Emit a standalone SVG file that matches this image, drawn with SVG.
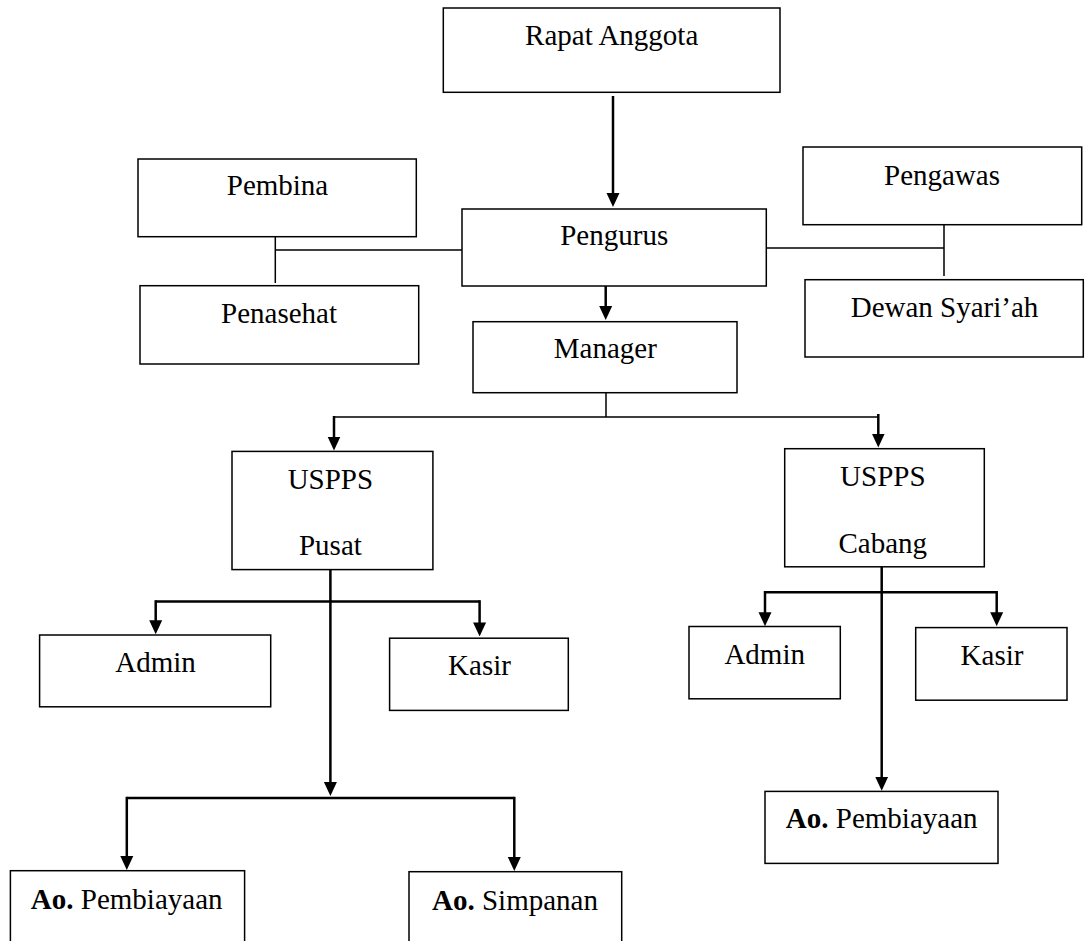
<svg xmlns="http://www.w3.org/2000/svg" width="1085" height="941" viewBox="0 0 1085 941">
<style>
.box{fill:#fff;stroke:#000;stroke-width:1.5}
.t{font-family:"Liberation Serif","Times New Roman",serif;font-size:29px;fill:#000;text-anchor:middle}
.b{font-weight:bold}
.ln{fill:none;stroke:#000;stroke-width:1.5}
.ar{fill:none;stroke:#000;stroke-width:2.5;marker-end:url(#ah)}
.th{fill:none;stroke:#000;stroke-width:2.5}
</style>
<defs>
<marker id="ah" markerUnits="userSpaceOnUse" markerWidth="14" markerHeight="14" refX="6" refY="7" orient="auto" viewBox="0 0 14 14">
<path d="M0,0.5 L14,7 L0,13.5 z" fill="#000"/>
</marker>
</defs>
<rect width="1085" height="941" fill="#fff"/>
<g id="connectors">
<path class="ar" d="M613,96 V199"/>
<path class="ln" d="M275.3,237 V283 M275.3,250 H462"/>
<path class="ln" d="M766,248 H944 M944,225 V276"/>
<path class="ar" d="M605.7,286 V312"/>
<path class="ln" d="M606,393 V417 M334,417 H878.3"/>
<path class="ar" d="M334,416 V442.5"/>
<path class="ar" d="M878.3,414 V439.5"/>
<path class="th" d="M330.4,570 V601.4 M155.7,601.4 H479.6"/>
<path class="ar" d="M155.7,600.2 V626.3"/>
<path class="ar" d="M479.6,600.2 V628.4"/>
<path class="ar" d="M330.4,600 V788"/>
<path class="th" d="M126.8,798 H514.3"/>
<path class="ar" d="M126.8,796.8 V862"/>
<path class="ar" d="M514.3,796.8 V863"/>
<path class="th" d="M881.7,566 V592.2 M765,592.2 H996.7"/>
<path class="ar" d="M765,591 V618.2"/>
<path class="ar" d="M996.7,591 V618.2"/>
<path class="ar" d="M881.7,591 V782.7"/>
</g>
<g id="rapat-anggota"><rect class="box" x="443.3" y="8" width="336.7" height="84.3"/><text class="t" x="611.7" y="45">Rapat Anggota</text></g>
<g id="pembina"><rect class="box" x="138" y="159" width="278.3" height="77.7"/><text class="t" x="277.5" y="195">Pembina</text></g>
<g id="pengurus"><rect class="box" x="462" y="209" width="304.3" height="77"/><text class="t" x="614.2" y="245">Pengurus</text></g>
<g id="pengawas"><rect class="box" x="803" y="147" width="278.7" height="77.7"/><text class="t" x="942" y="185">Pengawas</text></g>
<g id="penasehat"><rect class="box" x="140" y="285.7" width="278.7" height="78.3"/><text class="t" x="279" y="323.3">Penasehat</text></g>
<g id="dewan-syariah"><rect class="box" x="805" y="279.7" width="278.3" height="77.3"/><text class="t" x="944.5" y="316.7">Dewan Syari’ah</text></g>
<g id="manager"><rect class="box" x="473" y="321.7" width="264" height="71"/><text class="t" x="605.3" y="358.3">Manager</text></g>
<g id="uspps-pusat"><rect class="box" x="232" y="451.4" width="200.9" height="118.2"/><text class="t" x="330.4" y="489">USPPS</text><text class="t" x="330.4" y="555">Pusat</text></g>
<g id="uspps-cabang"><rect class="box" x="784.7" y="448.7" width="199.6" height="118.1"/><text class="t" x="882.8" y="486.3">USPPS</text><text class="t" x="882.8" y="552.5">Cabang</text></g>
<g id="admin-pusat"><rect class="box" x="39.6" y="635" width="231.1" height="71.8"/><text class="t" x="155.5" y="672">Admin</text></g>
<g id="kasir-pusat"><rect class="box" x="389.6" y="638.2" width="178.7" height="72.2"/><text class="t" x="479.5" y="675">Kasir</text></g>
<g id="admin-cabang"><rect class="box" x="689" y="626.5" width="151.3" height="72.3"/><text class="t" x="764.7" y="663.7">Admin</text></g>
<g id="kasir-cabang"><rect class="box" x="915.7" y="627.6" width="151.3" height="72.6"/><text class="t" x="992" y="665.1">Kasir</text></g>
<g id="ao-pembiayaan-cabang"><rect class="box" x="765" y="791.4" width="233" height="72"/><text class="t" x="881.7" y="828.3"><tspan class="b">Ao.</tspan> Pembiayaan</text></g>
<g id="ao-pembiayaan-pusat"><rect class="box" x="10.4" y="870.7" width="234.2" height="100"/><text class="t" x="126.7" y="909.3"><tspan class="b">Ao.</tspan> Pembiayaan</text></g>
<g id="ao-simpanan-pusat"><rect class="box" x="409" y="871.7" width="212.7" height="100"/><text class="t" x="515" y="910"><tspan class="b">Ao.</tspan> Simpanan</text></g>
</svg>
